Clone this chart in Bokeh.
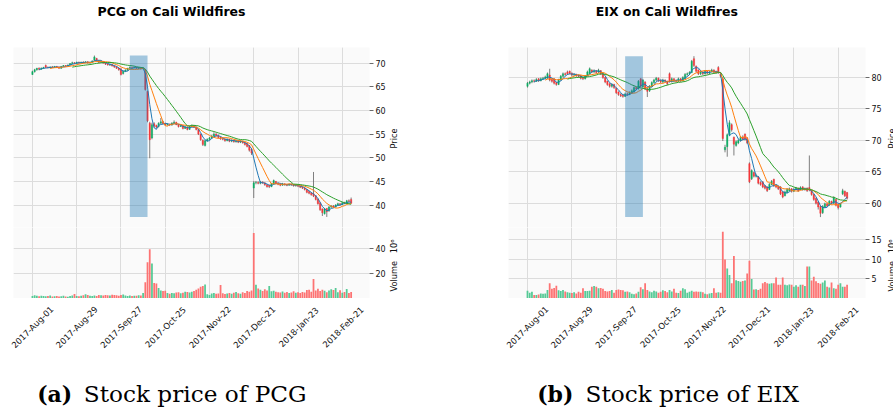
import numpy as np
import pandas as pd
from bokeh.plotting import figure
from bokeh.layouts import row, column
from bokeh.models import ColumnDataSource, Range1d, FixedTicker, Label, Grid, Plot
from bokeh.embed import file_html
from bokeh.resources import INLINE
from bokeh.core.properties import value

# ------------------------------------------------------------------ data
market_holidays = ["2017-09-04", "2017-11-23", "2017-12-25",
                   "2018-01-01", "2018-01-15", "2018-02-19"]
trading_days = pd.bdate_range("2017-08-01", "2018-02-27", freq="C",
                              holidays=market_holidays)
tick_labels = ["2017-Aug-01", "2017-Aug-29", "2017-Sep-27", "2017-Oct-25",
               "2017-Nov-22", "2017-Dec-21", "2018-Jan-23", "2018-Feb-21"]
event_window = ["2017-10-03", "2017-10-13"]
mav_windows = [4, 9, 19]
mav_colors = ["#1f77b4", "#ff7f0e", "#2ca02c"]

pcg_price_ticks = [40, 45, 50, 55, 60, 65, 70]
pcg_volume_ticks = [20, 40]
eix_price_ticks = [60, 65, 70, 75, 80]
eix_volume_ticks = [5, 10, 15]

pcg_open = [
    67.6, 68.2, 68.6, 68.9, 68.7, 68.9, 69.5, 69.1, 69.0, 69.2,
    69.1, 69.3, 69.2, 68.9, 69.3, 69.5, 69.4, 69.6, 69.9, 70.1,
    69.9, 70.2, 70.0, 70.2, 70.1, 70.3, 70.0, 70.2, 70.6, 71.0,
    70.5, 70.2, 70.3, 70.0, 69.8, 69.6, 69.7, 69.4, 69.2, 68.9,
    68.8, 67.8, 68.3, 68.5, 68.9, 69.1, 69.0, 69.1, 68.9, 69.0,
    68.8, 68.6, 64.0, 57.3, 54.2, 57.2, 56.8, 56.6, 57.3, 57.6,
    57.2, 57.0, 57.1, 56.9, 57.3, 57.5, 57.0, 56.6, 56.8, 56.2,
    56.5, 56.0, 56.6, 56.8, 56.5, 56.0, 55.0, 53.7, 52.6, 53.6,
    53.9, 54.2, 54.6, 55.0, 54.7, 54.3, 54.0, 53.9, 53.6, 53.9,
    53.5, 53.7, 53.4, 53.6, 53.3, 53.5, 53.2, 53.0, 52.6, 51.8,
    43.6, 44.7, 44.8, 44.6, 44.9, 44.7, 44.3, 44.2, 43.9, 44.5,
    45.0, 44.6, 44.4, 44.2, 44.5, 44.3, 44.2, 44.4, 44.3, 44.1,
    44.2, 44.0, 43.8, 43.6, 43.3, 42.9, 42.6, 42.4, 42.0, 41.3,
    40.5, 39.2, 38.2, 39.3, 38.8, 39.6, 39.8, 39.6, 40.0, 40.3,
    40.1, 40.5, 40.4, 40.9, 41.2]
pcg_close = [
    68.2, 68.6, 68.9, 68.7, 68.9, 69.1, 69.1, 69.0, 69.2, 69.1,
    69.3, 69.1, 68.9, 69.3, 69.5, 69.4, 69.6, 69.9, 70.1, 69.9,
    70.2, 70.0, 70.2, 70.1, 70.3, 70.0, 70.2, 70.4, 71.3, 70.5,
    70.2, 70.3, 70.0, 69.8, 69.6, 69.7, 69.4, 69.2, 68.9, 68.6,
    67.6, 68.3, 68.5, 68.9, 69.1, 69.0, 69.1, 68.9, 69.0, 68.8,
    69.0, 64.4, 57.8, 53.8, 57.0, 56.7, 56.5, 57.3, 57.6, 57.2,
    57.0, 57.1, 56.9, 57.3, 57.5, 57.0, 56.6, 56.8, 56.2, 56.5,
    56.0, 56.6, 56.8, 56.5, 56.0, 55.0, 53.8, 52.8, 53.6, 53.9,
    54.2, 54.6, 55.0, 54.7, 54.3, 54.0, 53.9, 53.6, 53.9, 53.5,
    53.7, 53.4, 53.6, 53.3, 53.5, 53.2, 52.8, 52.4, 51.6, 51.0,
    44.7, 44.8, 44.6, 44.9, 44.7, 44.3, 43.9, 43.9, 44.5, 45.2,
    44.6, 44.4, 44.2, 44.5, 44.3, 44.2, 44.4, 44.3, 44.1, 44.2,
    44.0, 43.8, 43.6, 43.3, 42.7, 42.5, 42.2, 41.9, 41.2, 40.3,
    39.0, 38.4, 39.2, 38.6, 39.6, 39.8, 39.6, 40.0, 40.3, 40.1,
    40.5, 40.4, 40.9, 40.8, 40.4]
pcg_high = [
    68.4, 68.8, 69.0, 69.1, 69.1, 69.2, 69.7, 69.3, 69.3, 69.4,
    69.4, 69.4, 69.3, 69.4, 69.6, 69.6, 69.7, 70.0, 70.3, 70.2,
    70.3, 70.3, 70.3, 70.4, 70.4, 70.4, 70.3, 70.6, 71.6, 71.1,
    70.6, 70.5, 70.4, 70.1, 69.9, 69.8, 69.8, 69.5, 69.3, 69.0,
    68.9, 68.4, 68.7, 69.0, 69.3, 69.2, 69.3, 69.2, 69.1, 69.1,
    69.1, 68.7, 64.2, 57.6, 57.4, 57.5, 57.0, 57.5, 58.4, 57.8,
    57.4, 57.3, 57.2, 57.5, 57.9, 57.6, 57.1, 57.0, 56.9, 56.7,
    56.6, 56.8, 57.0, 56.9, 56.6, 56.1, 55.1, 53.9, 53.8, 54.1,
    54.4, 54.8, 55.4, 55.2, 54.9, 54.5, 54.2, 54.0, 54.1, 54.0,
    53.9, 53.8, 53.8, 53.7, 53.7, 53.6, 53.3, 53.1, 52.7, 52.0,
    45.1, 45.1, 45.0, 45.1, 45.0, 44.8, 44.4, 44.3, 44.7, 45.4,
    45.1, 44.8, 44.6, 44.7, 44.6, 44.5, 44.6, 44.6, 44.4, 44.4,
    44.3, 44.1, 43.9, 43.7, 43.4, 43.0, 42.7, 47.0, 42.1, 41.4,
    40.6, 39.3, 39.4, 39.4, 39.8, 40.0, 40.0, 40.2, 40.5, 40.4,
    40.6, 40.7, 41.1, 41.2, 41.6]
pcg_low = [
    67.5, 68.0, 68.4, 68.5, 68.6, 68.8, 69.0, 68.9, 68.9, 69.0,
    69.0, 69.0, 68.8, 68.8, 69.2, 69.3, 69.3, 69.5, 69.8, 69.8,
    69.8, 69.9, 69.9, 70.0, 70.0, 69.9, 69.9, 70.1, 70.5, 70.3,
    70.0, 70.1, 69.9, 69.6, 69.5, 69.4, 69.3, 69.0, 68.8, 68.4,
    67.4, 67.6, 68.1, 68.4, 68.8, 68.9, 68.9, 68.8, 68.7, 68.6,
    68.7, 64.2, 57.5, 49.9, 53.9, 56.4, 56.2, 56.4, 57.1, 57.0,
    56.8, 56.8, 56.7, 56.8, 57.2, 56.9, 56.4, 56.5, 56.0, 56.1,
    55.8, 55.9, 56.4, 56.3, 55.8, 54.8, 53.6, 52.5, 52.4, 53.4,
    53.7, 54.0, 54.4, 54.5, 54.1, 53.8, 53.7, 53.4, 53.5, 53.3,
    53.3, 53.2, 53.2, 53.1, 53.1, 53.0, 52.6, 52.2, 51.3, 50.6,
    41.5, 44.4, 44.4, 44.4, 44.5, 44.1, 43.7, 43.6, 43.8, 44.4,
    44.4, 44.2, 44.0, 44.1, 44.1, 44.0, 44.1, 44.1, 43.9, 43.9,
    43.8, 43.6, 43.4, 43.1, 42.5, 42.3, 42.0, 41.7, 41.0, 40.1,
    38.8, 37.7, 38.0, 37.5, 38.6, 39.4, 39.4, 39.5, 39.9, 39.9,
    40.0, 40.2, 40.3, 40.6, 40.3]
pcg_volume = [
    2.0, 2.6, 2.2, 1.9, 2.3, 2.1, 1.8, 2.0, 2.4, 1.7,
    1.9, 2.1, 1.6, 1.8, 2.2, 1.7, 1.5, 2.0, 2.4, 3.6,
    2.1, 1.8, 2.3, 2.6, 3.4, 2.9, 2.2, 2.0, 2.5, 2.1,
    2.8, 2.6, 2.4, 2.9, 2.7, 2.5, 3.0, 2.8, 2.6, 2.3,
    2.9, 3.3, 2.4, 2.1, 2.4, 2.0, 2.2, 2.3, 2.6, 2.5,
    4.5, 13.0, 29.0, 39.5, 28.0, 12.5, 12.0, 8.5, 6.5, 6.0,
    6.3, 4.5, 3.8, 4.5, 4.2, 4.8, 5.0, 4.2, 4.6, 5.5,
    5.2, 4.8, 5.4, 6.0, 7.0, 8.0, 9.5, 10.0, 11.2, 3.5,
    2.8, 4.0, 4.5, 3.9, 4.0, 10.8, 4.2, 3.6, 4.0, 4.4,
    3.9, 4.6, 5.2, 4.3, 3.8, 5.0, 4.4, 6.0, 5.5, 6.5,
    52.5, 11.0, 8.0, 7.0, 6.0, 7.5, 6.5, 10.0, 5.8, 6.2,
    5.5, 5.0, 4.8, 5.6, 4.6, 5.3, 4.5, 4.9, 5.8, 4.7,
    5.0, 4.4, 5.2, 4.8, 6.8, 7.0, 5.5, 15.7, 6.5, 7.8,
    6.0, 7.0, 6.2, 5.0, 6.5, 7.5, 6.8, 8.5, 5.0, 6.6,
    4.7, 5.2, 7.7, 4.5, 5.3]

eix_open = [
    78.6, 79.1, 79.3, 79.5, 79.4, 79.8, 79.5, 79.8, 79.9, 79.9,
    80.4, 79.7, 79.8, 79.2, 78.9, 79.6, 80.2, 80.6, 80.9, 81.0,
    80.7, 80.4, 80.5, 80.3, 80.3, 80.0, 79.8, 80.3, 80.6, 81.2,
    80.9, 81.1, 80.9, 81.1, 80.6, 80.0, 79.4, 79.0, 78.6, 78.9,
    78.3, 77.7, 77.3, 77.2, 77.0, 77.4, 77.3, 77.5, 77.7, 78.4,
    78.2, 79.8, 78.5, 79.3, 78.2, 77.9, 78.6, 79.2, 79.6, 79.9,
    79.5, 79.3, 79.6, 79.4, 80.6, 79.4, 79.8, 79.5, 79.4, 79.8,
    79.5, 79.8, 80.5, 80.6, 80.8, 83.0, 81.8, 81.2, 80.6, 80.9,
    80.6, 81.0, 80.7, 80.9, 81.2, 80.9, 81.6, 80.6, 79.8, 68.5,
    69.0, 70.9, 72.5, 70.5, 69.2, 69.6, 70.0, 70.5, 71.0, 70.4,
    66.3, 63.9, 64.9, 64.3, 64.2, 63.3, 63.4, 62.8, 62.6, 62.2,
    63.0, 63.8, 62.9, 62.7, 62.6, 61.8, 61.2, 61.7, 62.0, 62.3,
    61.9, 62.2, 62.4, 62.2, 62.6, 62.2, 62.4, 62.5, 62.0, 61.4,
    60.8, 60.2, 59.5, 58.5, 59.4, 59.9, 59.7, 60.3, 60.0, 60.6,
    59.8, 59.4, 61.5, 61.9, 61.7]
eix_close = [
    79.1, 79.3, 79.5, 79.4, 79.7, 79.5, 79.8, 79.9, 80.1, 80.6,
    79.6, 79.4, 79.1, 78.9, 79.6, 80.2, 80.6, 80.5, 80.6, 80.7,
    80.4, 80.5, 80.3, 80.2, 79.9, 79.8, 80.3, 80.9, 81.4, 80.9,
    81.1, 80.8, 81.2, 80.6, 80.0, 79.3, 78.9, 78.6, 78.9, 78.4,
    77.6, 77.3, 77.1, 77.0, 77.4, 77.3, 77.6, 77.9, 78.4, 78.2,
    79.4, 78.6, 79.6, 78.2, 77.8, 78.6, 79.2, 79.6, 79.9, 79.5,
    79.3, 79.6, 79.4, 79.0, 79.4, 79.8, 79.5, 79.4, 79.8, 79.5,
    80.0, 80.5, 80.6, 80.8, 82.6, 81.9, 81.0, 80.6, 80.9, 80.6,
    81.0, 80.7, 80.9, 81.2, 80.9, 80.8, 80.8, 80.2, 70.3, 68.9,
    70.9, 72.8, 71.7, 69.4, 69.8, 70.0, 70.5, 70.2, 70.2, 69.6,
    63.4, 65.2, 64.3, 64.4, 63.2, 63.0, 62.6, 62.4, 62.0, 63.0,
    63.5, 62.8, 62.6, 62.3, 61.5, 61.0, 61.8, 62.2, 62.3, 61.9,
    62.2, 62.4, 62.0, 62.5, 62.2, 62.3, 62.0, 62.1, 61.4, 60.6,
    60.0, 59.4, 58.4, 59.5, 59.9, 59.6, 60.3, 60.0, 60.9, 59.7,
    59.3, 59.9, 62.0, 61.2, 60.8]
eix_high = [
    79.3, 79.5, 79.7, 79.7, 79.9, 79.9, 80.0, 80.1, 80.3, 80.8,
    81.4, 79.9, 79.9, 79.3, 79.8, 80.4, 80.8, 80.8, 81.1, 81.1,
    80.8, 80.7, 80.6, 80.5, 80.4, 80.1, 80.4, 81.1, 81.6, 81.3,
    81.3, 81.2, 81.4, 81.2, 80.7, 80.1, 79.5, 79.1, 79.1, 79.0,
    78.4, 77.8, 77.5, 77.4, 77.6, 77.6, 77.8, 78.1, 78.6, 78.5,
    79.6, 79.9, 79.8, 79.4, 78.4, 78.8, 79.4, 79.8, 80.1, 80.0,
    79.7, 79.8, 79.7, 79.5, 80.8, 80.0, 79.9, 79.7, 80.0, 79.9,
    80.2, 80.7, 80.8, 81.0, 82.8, 83.4, 81.9, 81.3, 81.1, 81.0,
    81.2, 81.1, 81.1, 81.4, 81.3, 81.1, 81.8, 80.8, 80.1, 69.3,
    71.1, 73.2, 72.7, 70.6, 70.0, 70.2, 70.7, 70.8, 71.1, 70.5,
    66.5, 65.4, 65.0, 64.7, 64.3, 63.5, 63.5, 62.9, 62.7, 63.2,
    63.7, 63.9, 63.0, 62.8, 62.7, 61.9, 62.0, 62.4, 62.5, 62.4,
    62.4, 62.6, 62.5, 62.7, 62.7, 62.5, 62.5, 67.6, 62.1, 61.5,
    60.9, 60.3, 59.6, 59.7, 60.1, 60.0, 60.5, 60.4, 61.1, 60.7,
    59.9, 60.1, 62.3, 62.0, 61.8]
eix_low = [
    78.4, 78.9, 79.1, 79.2, 79.3, 79.3, 79.4, 79.6, 79.7, 79.8,
    79.4, 79.2, 78.9, 78.7, 78.8, 79.5, 80.0, 80.3, 80.4, 80.5,
    80.2, 80.2, 80.1, 80.0, 79.7, 79.6, 79.7, 80.2, 80.5, 80.7,
    80.7, 80.6, 80.7, 80.4, 79.8, 79.1, 78.7, 78.4, 78.4, 78.2,
    77.4, 77.1, 76.9, 76.8, 76.9, 77.1, 77.2, 77.4, 77.6, 78.0,
    78.1, 78.4, 78.4, 78.0, 76.9, 77.7, 78.5, 79.0, 79.4, 79.3,
    79.1, 79.1, 79.2, 78.8, 79.2, 79.2, 79.3, 79.2, 79.3, 79.3,
    79.4, 79.7, 80.3, 80.4, 80.7, 81.7, 80.8, 80.4, 80.4, 80.4,
    80.5, 80.5, 80.5, 80.8, 80.7, 80.6, 80.6, 80.0, 69.9, 68.1,
    67.4, 70.7, 71.4, 67.6, 69.0, 69.4, 69.8, 70.0, 70.0, 69.4,
    63.2, 63.7, 64.1, 64.1, 63.0, 62.8, 62.4, 62.2, 61.8, 62.1,
    62.9, 62.6, 62.4, 62.1, 61.3, 60.8, 61.1, 61.6, 61.9, 61.7,
    61.8, 62.1, 61.8, 62.1, 62.0, 62.0, 61.8, 61.9, 61.2, 60.4,
    59.8, 59.0, 57.8, 58.3, 59.2, 59.4, 59.6, 59.8, 59.9, 59.5,
    59.0, 59.3, 61.3, 61.0, 60.6]
eix_volume = [
    2.0, 1.5, 1.7, 0.9, 0.9, 1.0, 1.3, 1.2, 1.3, 2.2,
    3.9, 2.5, 2.7, 3.3, 2.1, 1.9, 2.2, 1.8, 1.6, 1.5,
    1.4, 1.6, 1.3, 1.7, 1.5, 2.6, 1.9, 1.9, 2.0, 3.0,
    3.2, 3.0, 2.6, 2.7, 2.5, 1.9, 1.8, 1.9, 2.2, 1.5,
    2.2, 2.3, 2.2, 2.1, 1.7, 1.8, 1.6, 1.2, 1.1, 1.3,
    1.7, 2.9, 2.4, 3.9, 2.2, 1.8, 1.6, 2.0, 1.8, 1.5,
    1.7, 2.1, 1.9, 1.6, 2.2, 1.8, 2.5, 1.5, 1.4, 2.0,
    2.6, 2.4, 1.5, 1.7, 2.0, 1.75, 1.8, 1.7, 1.75, 1.6,
    1.2, 1.1, 1.3, 1.4, 2.6, 1.5, 1.6, 1.5, 17.1, 10.0,
    7.7, 6.0, 3.9, 10.9, 4.7, 4.5, 4.3, 4.5, 4.6, 6.4,
    9.7, 5.0, 2.3, 2.4, 2.2, 2.5, 3.9, 4.2, 3.9, 3.8,
    3.9, 3.9, 5.4, 3.5, 3.5, 5.4, 3.5, 3.4, 3.6, 3.5,
    3.0, 3.4, 3.0, 3.5, 3.5, 3.2, 8.2, 8.2, 4.6, 5.6,
    4.4, 4.0, 3.8, 4.1, 4.6, 3.0, 2.8, 4.1, 2.6, 2.5,
    3.5, 3.9, 3.0, 3.0, 3.5]

# ------------------------------------------------------------------ style
FONT = "DejaVu Sans"
SERIF = "DejaVu Serif"
GRID = "#dcdcdc"
UP, DOWN = "#00b060", "#fe3032"
VUP, VDOWN = "#4dc790", "#fd6b6c"
WICK = "#606060"
SHADE = "#1f77b4"

FRAME_W, PRICE_H, VOL_H = 357, 180, 71
HEAD_H, FOOT_H = 47, 111
X0, X1 = -8.56, 152.3
HAS_FRAME_ALIGN = "frame_align" in Plot.properties()

n = len(trading_days)
idx = np.arange(n)
tick_pos = [int(trading_days.get_loc(pd.to_datetime(t, format="%Y-%b-%d")))
            for t in tick_labels]
shade_idx = [int(trading_days.get_loc(pd.Timestamp(d))) for d in event_window]


def blank(width, height, xr=None):
    f = figure(width=width, height=height, output_backend="svg",
               toolbar_location=None, x_axis_location=None,
               y_axis_location=None, min_border=0, min_border_left=0,
               min_border_right=0, min_border_top=0, min_border_bottom=0,
               outline_line_color=None, background_fill_color="white",
               border_fill_color="white",
               x_range=xr if xr is not None else Range1d(0, width),
               y_range=Range1d(0, height))
    if HAS_FRAME_ALIGN:
        f.frame_align = False
    f.xgrid.visible = False
    f.ygrid.visible = False
    return f


def style_yaxis(ax, ticks):
    ax.ticker = FixedTicker(ticks=ticks)
    ax.axis_line_color = None
    ax.major_tick_out = 4
    ax.major_tick_in = 0
    ax.major_tick_line_color = "#444444"
    ax.major_tick_line_width = 0.8
    ax.minor_tick_line_color = None
    ax.major_label_standoff = 2
    ax.major_label_text_font = FONT
    ax.major_label_text_font_size = "8px"
    ax.major_label_text_color = "#111111"


def side_text(fig, x, y, text):
    fig.add_layout(Label(x=x, y=y, x_units="screen", y_units="screen",
                         text=text, angle=np.pi / 2, text_font=FONT,
                         text_font_size="8.2px", text_align="center",
                         text_baseline="middle", text_color="#111111"))


def make_chart(title, title_x, letter, caption, cap_x, o, h, l, c, vol,
               price_rng, price_ticks, vol_rng, vol_ticks,
               left_b, right_b, side_w, side_x):
    o, h, l, c, vol = map(np.asarray, (o, h, l, c, vol))
    assert len(o) == len(h) == len(l) == len(c) == len(vol) == n
    plot_w = left_b + FRAME_W + right_b
    width = plot_w + side_w
    xr = Range1d(X0, X1)
    up = c >= o
    prev = np.concatenate([[o[0]], c[:-1]])
    vup = c >= prev
    src = ColumnDataSource(dict(
        x=idx, o=o, h=h, l=l, c=c, vol=vol,
        top=np.maximum(o, c), bottom=np.minimum(o, c),
        color=np.where(up, UP, DOWN), vcolor=np.where(vup, VUP, VDOWN)))

    common = dict(output_backend="svg", toolbar_location=None,
                  background_fill_color="#fafafa", border_fill_color="white",
                  outline_line_color=None, min_border_left=left_b,
                  min_border_right=right_b, min_border_top=0,
                  min_border_bottom=0, y_axis_location="right",
                  x_axis_location=None, x_range=xr)

    # ---------------- header with the title
    head = blank(width, HEAD_H)
    head.add_layout(Label(x=title_x, y=HEAD_H - 11, x_units="screen",
                          y_units="screen", text=title, text_font=FONT,
                          text_font_style="bold", text_font_size="12.5px",
                          text_align="center", text_baseline="middle",
                          text_color="black"))

    # ---------------- price panel
    p = figure(width=plot_w, height=PRICE_H, y_range=Range1d(*price_rng),
               **common)
    style_yaxis(p.yaxis[0], price_ticks)
    p.ygrid.grid_line_color = GRID
    p.add_layout(Grid(dimension=0, ticker=FixedTicker(ticks=tick_pos),
                      grid_line_color=GRID))

    p.segment(x0="x", y0="l", x1="x", y1="h", source=src,
              line_color=WICK, line_width=0.8)
    p.vbar(x="x", top="top", bottom="bottom", width=0.62, source=src,
           fill_color="color", line_color="color", line_width=0.4,
           fill_alpha=0.9, line_alpha=0.9)
    closes = pd.Series(c)
    for w, col in zip(mav_windows, mav_colors):
        p.line(idx, closes.rolling(w).mean().to_numpy(), line_color=col,
               line_width=1.0)
    p.quad(left=shade_idx[0], right=shade_idx[1], bottom=float(l.min()),
           top=float(h.max()), fill_color=SHADE, fill_alpha=0.4,
           line_color=None)

    # ---------------- volume panel
    v = figure(width=plot_w, height=VOL_H, y_range=Range1d(*vol_rng),
               **common)
    style_yaxis(v.yaxis[0], vol_ticks)
    v.ygrid.grid_line_color = GRID
    v.add_layout(Grid(dimension=0, ticker=FixedTicker(ticks=tick_pos),
                      grid_line_color=GRID))
    v.vbar(x="x", top="vol", bottom=0, width=0.8, source=src,
           fill_color="vcolor", line_color=None, fill_alpha=0.95)

    # ---------------- side strip with the axis titles
    side = blank(side_w, PRICE_H + VOL_H)
    side_text(side, side_x, VOL_H + PRICE_H / 2 - 1, "Price")
    side_text(side, side_x, 33, "Volume\u00a0\u00a0\u00a010\u2076")

    # ---------------- footer: date tick labels + caption
    scale = FRAME_W / (X1 - X0)
    fr = Range1d(X0 - left_b / scale, X1 + (right_b + side_w) / scale)
    foot = blank(width, FOOT_H, xr=fr)
    tsrc = ColumnDataSource(dict(x=tick_pos, text=tick_labels))
    foot.text(x="x", y=FOOT_H - 28.7, text="text", source=tsrc,
              angle=np.pi / 4, text_align="center", text_baseline="middle",
              text_font=value(FONT), text_font_size="8.5px",
              text_color="#111111")
    foot.add_layout(Label(x=cap_x[0], y=FOOT_H - 95, x_units="screen",
                          y_units="screen", text=f"({letter})",
                          text_font=SERIF, text_font_style="bold",
                          text_font_size="22px", text_align="left",
                          text_baseline="middle", text_color="black"))
    foot.add_layout(Label(x=cap_x[1], y=FOOT_H - 95, x_units="screen",
                          y_units="screen", text=caption, text_font=SERIF,
                          text_font_size="23.2px", text_align="left",
                          text_baseline="middle", text_color="black"))
    return column(head, row(column(p, v), side), foot)


left = make_chart("PCG on Cali Wildfires", 171, "a", "Stock price of PCG",
                  (36.7, 83.3), pcg_open, pcg_high, pcg_low, pcg_close,
                  pcg_volume, (35.27, 73.3), pcg_price_ticks, (0, 56.8),
                  pcg_volume_ticks, 13, 18, 52, 5.3)
right = make_chart("EIX on Cali Wildfires", 226.3, "b", "Stock price of EIX",
                   (96.7, 145.0), eix_open, eix_high, eix_low, eix_close,
                   eix_volume, (56.14, 84.78), eix_price_ticks, (0, 18.2),
                   eix_volume_ticks, 68, 20, 8, 6.0)

layout = row(left, right)
open("out.html", "w").write(file_html(layout, INLINE))
